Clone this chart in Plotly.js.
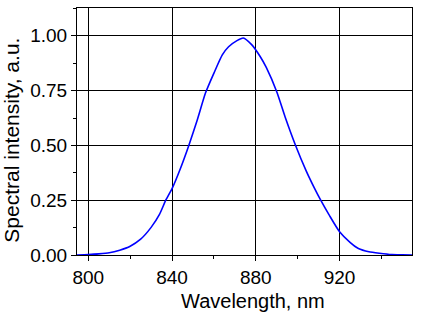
<!DOCTYPE html>
<html>
<head>
<meta charset="utf-8">
<script src="https://cdn.plot.ly/plotly-3.0.1.min.js"></script>
<style>html,body{margin:0;padding:0;background:#fff;}#chart{width:421px;height:314px;}</style>
</head>
<body>
<div id="chart"></div>
<script>
const wavelength = [794,800,805,810,815,820,825,830,834,837,840,844,848,852,856,860,864,867,871,874,878,882,885,890,894,899,904,908,911,915,920,925,929,934,939,945,950,955];
const intensity = [0,0.002,0.005,0.010,0.022,0.040,0.072,0.126,0.185,0.25,0.303,0.395,0.50,0.615,0.74,0.83,0.913,0.95,0.978,0.99,0.96,0.907,0.856,0.745,0.63,0.50,0.385,0.305,0.25,0.183,0.106,0.058,0.03,0.015,0.008,0.002,0.001,0.0];
const xTickVals = [800,840,880,920];
const yTickVals = [0,0.25,0.5,0.75,1.0];
const xTitle = 'Wavelength, nm';
const yTitle = 'Spectral intensity, a.u.';

const font = 'Arial, "Liberation Sans", sans-serif';
const trace = {
  x: wavelength, y: intensity, type: 'scatter', mode: 'lines',
  line: {color: '#0000ff', width: 1.6, shape: 'spline', smoothing: 0.6}, hoverinfo: 'skip'
};
const layout = {
  width: 421, height: 314,
  margin: {l: 77, r: 9, t: 8, b: 59},
  paper_bgcolor: '#fff', plot_bgcolor: '#fff',
  showlegend: false,
  font: {family: font, color: '#000', size: 19},
  xaxis: {
    range: [794.6, 954.6], tickvals: xTickVals, ticks: 'outside', ticklen: 5, tickwidth: 1, tickcolor: '#000',
    showline: true, linecolor: '#000', linewidth: 1, mirror: true,
    showgrid: true, gridcolor: '#000', gridwidth: 1, zeroline: false,
    minor: {dtick: 20, tick0: 800, ticks: 'outside', ticklen: 3, tickcolor: '#000', showgrid: false},
    tickfont: {size: 19, family: font, color: '#000'}
  },
  yaxis: {
    range: [0, 1.127], tickvals: yTickVals, tickformat: '.2f', ticks: 'outside', ticklen: 5, tickwidth: 1, tickcolor: '#000',
    showline: true, linecolor: '#000', linewidth: 1, mirror: true,
    showgrid: true, gridcolor: '#000', gridwidth: 1, zeroline: false,
    minor: {dtick: 0.125, tick0: 0, ticks: 'outside', ticklen: 3, tickcolor: '#000', showgrid: false},
    tickfont: {size: 19, family: font, color: '#000'}
  },
  annotations: [
    {text: xTitle, xref: 'paper', yref: 'paper', x: 0.524, y: -0.185, xanchor: 'center', yanchor: 'middle',
     showarrow: false, font: {size: 20, family: font, color: '#000'}},
    {text: yTitle, xref: 'paper', yref: 'paper', x: -0.194, y: 0.463, xanchor: 'center', yanchor: 'middle',
     textangle: -90, showarrow: false, font: {size: 21, family: font, color: '#000'}}
  ]
};
Plotly.newPlot('chart', [trace], layout, {staticPlot: true, displayModeBar: false});
</script>
</body>
</html>
